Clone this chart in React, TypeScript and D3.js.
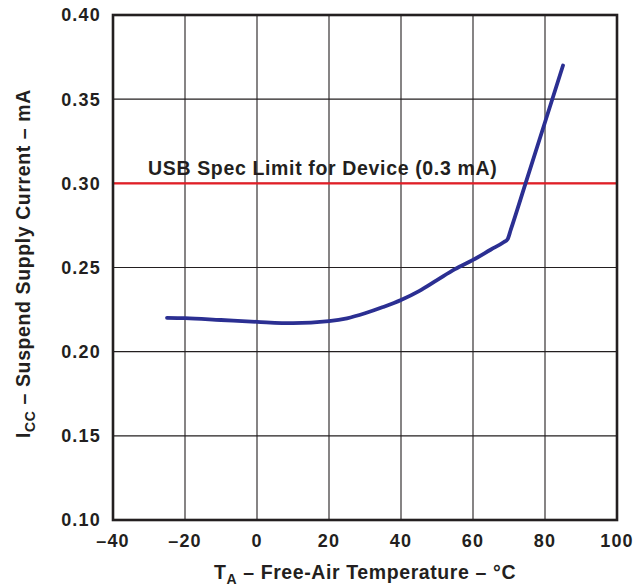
import React from "react";
import * as d3 from "d3";

const temps = [-25, -20, -10, 0, 10, 20, 25, 30, 35, 40, 45, 50, 55, 60, 65, 68.5, 69.6, 70.5, 74.6, 80, 85];
const currents = [0.2201, 0.2199, 0.2188, 0.2177, 0.2169, 0.2181, 0.2198, 0.2228, 0.2265, 0.2307, 0.236, 0.2425, 0.249, 0.2545, 0.2607, 0.265, 0.2668, 0.2725, 0.3, 0.3363, 0.37];
const xTicks = [-40, -20, 0, 20, 40, 60, 80, 100];
const yTicks = [0.1, 0.15, 0.2, 0.25, 0.3, 0.35, 0.4];
const specLimit = 0.3;
const specLabel = "USB Spec Limit for Device (0.3 mA)";

const W = 643;
const H = 586;
const INK = "#231f20";
const FONT = "'Liberation Sans', Arial, Helvetica, sans-serif";

export default function App() {
  const x = d3.scaleLinear().domain([-40, 100]).range([113, 617]);
  const y = d3.scaleLinear().domain([0.1, 0.4]).range([520, 15]);
  const pts: [number, number][] = temps.map((t, i) => [t, currents[i]]);
  const line = d3
    .line<[number, number]>()
    .x((d) => x(d[0]))
    .y((d) => y(d[1]))
    .curve(d3.curveMonotoneX);
  const fmtX = (t: number) => (t < 0 ? "\u2013" + Math.abs(t) : String(t));
  return (
    <svg
      width={W}
      height={H}
      style={{ position: "absolute", left: 0, top: 0, background: "#fff" }}
      fontFamily={FONT}
    >
      <rect x={0} y={0} width={W} height={H} fill="#fff" />
      {/* grid */}
      {xTicks.map((t) => (
        <line key={"gx" + t} x1={x(t)} x2={x(t)} y1={y(0.4)} y2={y(0.1)} stroke={INK} strokeWidth={1.1} />
      ))}
      {yTicks.map((v) => (
        <line key={"gy" + v} x1={x(-40)} x2={x(100)} y1={y(v)} y2={y(v)} stroke={INK} strokeWidth={1.1} />
      ))}
      {/* spec limit */}
      <line x1={x(-40)} x2={x(100)} y1={y(specLimit)} y2={y(specLimit)} stroke="#e41e26" strokeWidth={2.2} />
      <text x={148} y={y(specLimit) - 8} fontSize={19.5} fontWeight="bold" fill={INK} letterSpacing={0.65}>
        {specLabel}
      </text>
      {/* curve */}
      <path d={line(pts) || ""} fill="none" stroke="#2b2f92" strokeWidth={3.8} strokeLinecap="round" strokeLinejoin="round" />
      {/* frame */}
      <rect
        x={x(-40)}
        y={y(0.4)}
        width={x(100) - x(-40)}
        height={y(0.1) - y(0.4)}
        fill="none"
        stroke={INK}
        strokeWidth={2.6}
      />
      {/* y tick labels */}
      {yTicks.map((v) => (
        <text
          key={"ty" + v}
          x={101}
          y={y(v)}
          dy="0.36em"
          textAnchor="end"
          fontSize={18}
          fontWeight="bold"
          fill={INK}
          letterSpacing={1.2}
        >
          {v.toFixed(2)}
        </text>
      ))}
      {/* x tick labels */}
      {xTicks.map((t) => (
        <text
          key={"tx" + t}
          x={x(t)}
          y={547}
          textAnchor="middle"
          fontSize={18}
          fontWeight="bold"
          fill={INK}
          letterSpacing={1.2}
        >
          {fmtX(t)}
        </text>
      ))}
      {/* x title */}
      <text x={365} y={579} textAnchor="middle" fontSize={19.5} fontWeight="bold" fill={INK} letterSpacing={0.6}>
        T
        <tspan fontSize={14} dy={5}>A</tspan>
        <tspan dy={-5}>{" \u2013 Free-Air Temperature \u2013 \u00B0C"}</tspan>
      </text>
      {/* y title */}
      <text
        transform={`translate(30, ${(y(0.4) + y(0.1)) / 2 - 4}) rotate(-90)`}
        textAnchor="middle"
        fontSize={19.5}
        fontWeight="bold"
        fill={INK}
        letterSpacing={0.6}
      >
        I
        <tspan fontSize={14} dy={5}>CC</tspan>
        <tspan dy={-5}>{" \u2013 Suspend Supply Current \u2013 mA"}</tspan>
      </text>
    </svg>
  );
}
